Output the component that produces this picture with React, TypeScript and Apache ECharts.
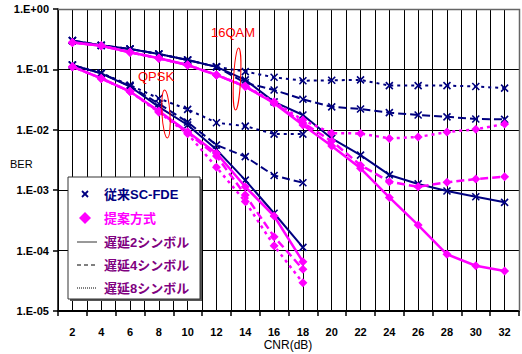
import React, { useEffect, useRef } from "react";
import * as echarts from "echarts";

// CNR points (dB)
const cnrQpsk = [2, 4, 6, 8, 10, 12, 14, 16, 18];
const cnr16qam = [2, 4, 6, 8, 10, 12, 14, 16, 18, 20, 22, 24, 26, 28, 30, 32];

// Conventional SC-FDE, QPSK
const convQpskD2 = [0.118, 0.086, 0.052, 0.024, 0.012, 0.0047, 0.00147, 0.000415, 0.000113];
const convQpskD4 = [0.118, 0.086, 0.053, 0.027, 0.0134, 0.0056, 0.0036, 0.00175, 0.00133];
const convQpskD8 = [0.118, 0.087, 0.055, 0.033, 0.0218, 0.0131, 0.0115, 0.0085, 0.0085];

// Proposed method, QPSK
const propQpskD2 = [0.111, 0.071, 0.043, 0.0205, 0.0093, 0.0041, 0.00114, 0.000374, 0.0000655];
const propQpskD4 = [0.111, 0.071, 0.043, 0.02, 0.009, 0.0037, 0.00083, 0.00017, 0.000049];
const propQpskD8 = [0.111, 0.071, 0.043, 0.0195, 0.0086, 0.0024, 0.00065, 0.00012, 0.0000293];

// Conventional SC-FDE, 16QAM
const conv16D2 = [0.3, 0.25, 0.218, 0.18, 0.143, 0.11, 0.067, 0.029, 0.0176, 0.0072, 0.0038, 0.00179, 0.00127, 0.00097, 0.00078, 0.00063];
const conv16D4 = [0.3, 0.25, 0.218, 0.18, 0.143, 0.11, 0.06, 0.0456, 0.032, 0.024, 0.0221, 0.0192, 0.0176, 0.0164, 0.0151, 0.0149];
const conv16D8 = [0.3, 0.25, 0.218, 0.18, 0.143, 0.11, 0.092, 0.074, 0.065, 0.066, 0.067, 0.054, 0.054, 0.054, 0.052, 0.049];

// Proposed method, 16QAM
const prop16D2 = [0.28, 0.247, 0.192, 0.153, 0.118, 0.081, 0.052, 0.0275, 0.012, 0.0054, 0.0023, 0.00076, 0.000265, 0.0000869, 0.0000562, 0.0000459];
const prop16D4 = [0.28, 0.247, 0.192, 0.153, 0.118, 0.081, 0.052, 0.028, 0.013, 0.0065, 0.0026, 0.00138, 0.00114, 0.00135, 0.00153, 0.00167];
const prop16D8 = [0.28, 0.247, 0.192, 0.153, 0.118, 0.081, 0.053, 0.029, 0.0145, 0.0088, 0.0087, 0.0072, 0.0076, 0.0092, 0.0102, 0.0125];

const NAVY = "#000080";
const MAGENTA = "#FF00FF";
const PURPLE = "#800080";
const LATIN = "'Liberation Sans', Arial, sans-serif";
const JP = "'Liberation Sans', 'Noto Sans CJK JP', sans-serif";

const CROSS = "path://M0 0L10 10M10 0L0 10";
const DASHED = [8, 4];
const DOTTED = [3, 4];

function makeSeries(
  name: string,
  xs: number[],
  ys: number[],
  conventional: boolean,
  dash: "solid" | number[]
) {
  const color = conventional ? NAVY : MAGENTA;
  return {
    name,
    type: "line",
    data: xs.map((x, i) => [x, ys[i]]),
    symbol: conventional ? CROSS : "diamond",
    symbolSize: conventional ? 7 : 9,
    showSymbol: true,
    z: conventional ? 2 : 3,
    lineStyle: { color, width: conventional ? 2 : 2.5, type: dash },
    itemStyle: conventional
      ? { color: NAVY, borderColor: NAVY, borderWidth: 1.6 }
      : { color: MAGENTA, borderWidth: 0 },
    emphasis: { disabled: true },
  };
}

function expLabel(v: number) {
  const e = Math.round(Math.log10(v));
  return "1.E" + (e >= 0 ? "+" : "-") + String(Math.abs(e)).padStart(2, "0");
}

export default function App() {
  const ref = useRef<HTMLDivElement>(null);

  useEffect(() => {
    if (!ref.current) return;
    const chart = echarts.init(ref.current, undefined, { renderer: "svg" });

    const lgX = 68;
    const lgY = 177;
    const rows = [194, 218, 242, 265, 288];

    chart.setOption({
      animation: false,
      backgroundColor: "#ffffff",
      grid: {
        left: 58,
        right: 3,
        top: 9,
        bottom: 43,
        containLabel: false,
        outerBoundsMode: "none",
      },
      xAxis: [
        {
          type: "value",
          min: 1,
          max: 33,
          interval: 1,
          axisLine: { show: true, onZero: false, lineStyle: { color: "#000", width: 2 } },
          axisTick: { show: false },
          splitLine: { show: true, lineStyle: { color: "#000", width: 1 } },
          axisLabel: {
            margin: 15,
            fontFamily: LATIN,
            fontSize: 11,
            fontWeight: "bold",
            color: "#000",
            formatter: (v: number) => (v % 2 === 0 ? String(v) : ""),
          },
        },
        {
          type: "value",
          min: 1,
          max: 33,
          interval: 2,
          position: "bottom",
          axisLine: { show: false },
          axisTick: { show: true, length: 5, inside: false, lineStyle: { color: "#000", width: 1.5 } },
          axisLabel: { show: false },
          splitLine: { show: false },
        },
      ],
      yAxis: {
        type: "log",
        logBase: 10,
        min: 1e-5,
        max: 1,
        interval: 1,
        axisLine: { show: true, lineStyle: { color: "#000", width: 1.5 } },
        axisTick: { show: true, length: 5, lineStyle: { color: "#000", width: 1.5 } },
        splitLine: { show: true, lineStyle: { color: "#000", width: 1.2 } },
        axisLabel: {
          margin: 9,
          fontFamily: LATIN,
          fontSize: 11,
          fontWeight: "bold",
          color: "#000",
          formatter: expLabel,
        },
      },
      series: [
        makeSeries("従来QPSK遅延2", cnrQpsk, convQpskD2, true, "solid"),
        makeSeries("従来QPSK遅延4", cnrQpsk, convQpskD4, true, DASHED),
        makeSeries("従来QPSK遅延8", cnrQpsk, convQpskD8, true, DOTTED),
        makeSeries("従来16QAM遅延2", cnr16qam, conv16D2, true, "solid"),
        makeSeries("従来16QAM遅延4", cnr16qam, conv16D4, true, DASHED),
        makeSeries("従来16QAM遅延8", cnr16qam, conv16D8, true, DOTTED),
        makeSeries("提案QPSK遅延2", cnrQpsk, propQpskD2, false, "solid"),
        makeSeries("提案QPSK遅延4", cnrQpsk, propQpskD4, false, DASHED),
        makeSeries("提案QPSK遅延8", cnrQpsk, propQpskD8, false, DOTTED),
        makeSeries("提案16QAM遅延2", cnr16qam, prop16D2, false, "solid"),
        makeSeries("提案16QAM遅延4", cnr16qam, prop16D4, false, DASHED),
        makeSeries("提案16QAM遅延8", cnr16qam, prop16D8, false, DOTTED),
      ],
      graphic: [
        // axis titles
        {
          type: "text",
          x: 10,
          y: 163.5,
          style: { text: "BER", fill: "#000", font: `11px ${LATIN}`, verticalAlign: "middle" },
        },
        {
          type: "text",
          x: 288,
          y: 345,
          style: {
            text: "CNR(dB)",
            fill: "#000",
            font: `12px ${LATIN}`,
            align: "center",
            verticalAlign: "middle",
          },
        },
        // plot frame: top and right edges
        {
          type: "polyline",
          z: 10,
          silent: true,
          shape: { points: [[58, 9.5], [519.5, 9.5], [519.5, 311]] },
          style: { stroke: "#666", lineWidth: 1.5, fill: null },
        },
        // modulation annotations
        {
          type: "text",
          z: 20,
          x: 211,
          y: 26,
          style: { text: "16QAM", fill: "#FF0000", font: `13px ${LATIN}` },
        },
        {
          type: "ellipse",
          z: 20,
          shape: { cx: 237, cy: 79, rx: 3.5, ry: 31 },
          rotation: -0.05,
          originX: 237,
          originY: 79,
          style: { stroke: "#FF0000", lineWidth: 1, fill: null },
        },
        {
          type: "text",
          z: 20,
          x: 138,
          y: 70,
          style: { text: "QPSK", fill: "#FF0000", font: `13px ${LATIN}` },
        },
        {
          type: "ellipse",
          z: 20,
          shape: { cx: 166, cy: 114, rx: 4, ry: 24 },
          rotation: 0.06,
          originX: 166,
          originY: 114,
          style: { stroke: "#FF0000", lineWidth: 1, fill: null },
        },
        // legend box
        {
          type: "rect",
          z: 30,
          shape: { x: lgX + 2, y: lgY + 2, width: 132, height: 122 },
          style: { fill: "#555" },
        },
        {
          type: "rect",
          z: 31,
          shape: { x: lgX, y: lgY, width: 132, height: 122 },
          style: { fill: "#fff", stroke: "#333", lineWidth: 1 },
        },
        {
          type: "line",
          z: 32,
          shape: { x1: 82, y1: rows[0] - 3, x2: 88, y2: rows[0] + 3 },
          style: { stroke: NAVY, lineWidth: 1.8 },
        },
        {
          type: "line",
          z: 32,
          shape: { x1: 88, y1: rows[0] - 3, x2: 82, y2: rows[0] + 3 },
          style: { stroke: NAVY, lineWidth: 1.8 },
        },
        {
          type: "polygon",
          z: 32,
          shape: {
            points: [
              [85, rows[1] - 6],
              [91, rows[1]],
              [85, rows[1] + 6],
              [79, rows[1]],
            ],
          },
          style: { fill: MAGENTA },
        },
        {
          type: "line",
          z: 32,
          shape: { x1: 77, y1: rows[2], x2: 97, y2: rows[2] },
          style: { stroke: "#333", lineWidth: 1 },
        },
        {
          type: "line",
          z: 32,
          shape: { x1: 77, y1: rows[3], x2: 97, y2: rows[3] },
          style: { stroke: "#000", lineWidth: 1, lineDash: [4, 3] },
        },
        {
          type: "line",
          z: 32,
          shape: { x1: 77, y1: rows[4], x2: 97, y2: rows[4] },
          style: { stroke: "#000", lineWidth: 1, lineDash: [1, 1] },
        },
        {
          type: "text",
          z: 32,
          x: 104,
          y: rows[0],
          style: { text: "従来SC-FDE", fill: NAVY, font: `bold 13px ${JP}`, verticalAlign: "middle" },
        },
        {
          type: "text",
          z: 32,
          x: 104,
          y: rows[1],
          style: { text: "提案方式", fill: MAGENTA, font: `bold 13px ${JP}`, verticalAlign: "middle" },
        },
        {
          type: "text",
          z: 32,
          x: 104,
          y: rows[2],
          style: { text: "遅延2シンボル", fill: PURPLE, font: `bold 13px ${JP}`, verticalAlign: "middle" },
        },
        {
          type: "text",
          z: 32,
          x: 104,
          y: rows[3],
          style: { text: "遅延4シンボル", fill: PURPLE, font: `bold 13px ${JP}`, verticalAlign: "middle" },
        },
        {
          type: "text",
          z: 32,
          x: 104,
          y: rows[4],
          style: { text: "遅延8シンボル", fill: PURPLE, font: `bold 13px ${JP}`, verticalAlign: "middle" },
        },
      ],
    });

    return () => chart.dispose();
  }, []);

  return (
    <div
      ref={ref}
      style={{ position: "fixed", left: 0, top: 0, width: 522, height: 354, background: "#fff" }}
    />
  );
}
